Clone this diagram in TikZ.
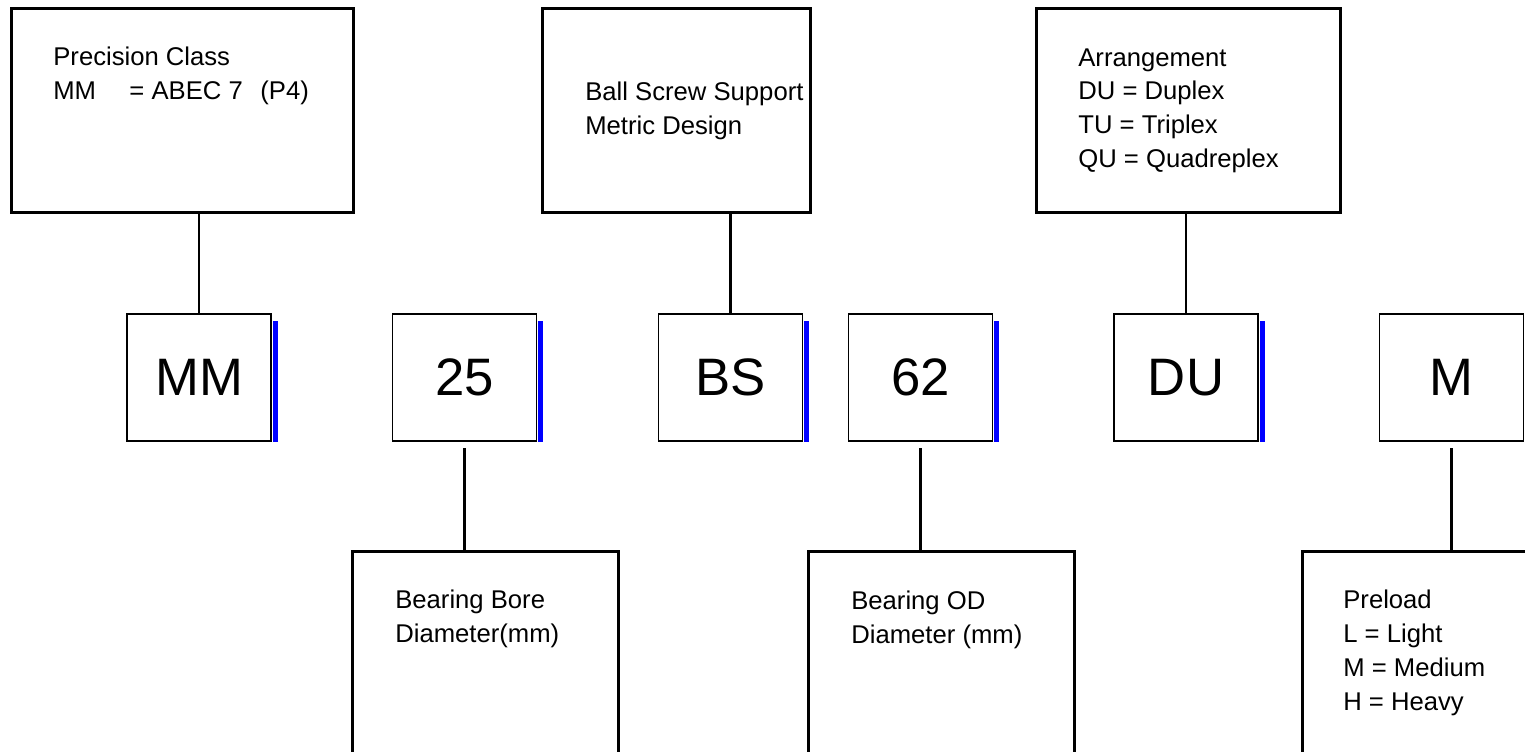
\documentclass[tikz,border=0pt]{standalone}
\usepackage{fontspec}
\setmainfont{Liberation Sans}
\tikzset{
    infobox/.style={draw, line width=1.6pt, anchor=north west},
    codebox/.style={draw, line width=0.9pt, minimum width=2.88cm, minimum height=2.55cm,
        font=\fontsize{30}{36}\selectfont},
    infotext/.style={anchor=north west, align=left, font=\fontsize{14.6}{19.2}\selectfont},
    link/.style={line width=1.3pt},
    bar/.style={fill=blue}
}

\begin{document}
\begin{tikzpicture}[
        x=0.02cm, y=-0.02cm,
        inner sep=0pt
    ]
        \useasboundingbox (0,0) rectangle (1525,751);
        \clip (0,0) rectangle (1525,751);

        % boxes above the code
        \node[infobox, minimum width=6.84cm, minimum height=4.08cm] (prec) at (10,7) {};
        \node[infobox, minimum width=5.36cm, minimum height=4.08cm] (screw) at (541,7) {};
        \node[infobox, minimum width=6.08cm, minimum height=4.08cm] (arr) at (1035,7) {};

        \node[infotext] (prectext) at ([shift={(43,40)}]prec.north west)
            {Precision Class\\MM\hspace{19pt}= ABEC 7\hspace{10pt}(P4)};
        \node[infotext] (screwtext) at ([shift={(44,75)}]screw.north west)
            {Ball Screw Support\\Metric Design};
        \node[infotext] (arrtext) at ([shift={(43,41)}]arr.north west)
            {Arrangement\\DU = Duplex\\TU = Triplex\\QU = Quadreplex};

        % the code
        \node[codebox] (mm) at (199,377.5) {MM};
        \node[codebox] (bore) at (464.5,377.5) {25};
        \node[codebox] (bs) at (730.5,377.5) {BS};
        \node[codebox] (od) at (920.5,377.5) {62};
        \node[codebox] (du) at (1186,377.5) {DU};
        \node[codebox] (m) at (1451.5,377.5) {M};

        \fill[bar] ([shift={(1,8)}]mm.north east) rectangle ([shift={(6,0)}]mm.south east);
        \fill[bar] ([shift={(1,8)}]bore.north east) rectangle ([shift={(6,0)}]bore.south east);
        \fill[bar] ([shift={(1,8)}]bs.north east) rectangle ([shift={(6,0)}]bs.south east);
        \fill[bar] ([shift={(1,8)}]od.north east) rectangle ([shift={(6,0)}]od.south east);
        \fill[bar] ([shift={(1,8)}]du.north east) rectangle ([shift={(6,0)}]du.south east);
        \fill[bar] ([shift={(1,8)}]m.north east) rectangle ([shift={(6,0)}]m.south east);

        % boxes below the code
        \node[infobox, minimum width=5.32cm, minimum height=5.2cm] (boredesc) at (351,550) {};
        \node[infobox, minimum width=5.32cm, minimum height=5.2cm] (oddesc) at (807,550) {};
        \node[infobox, minimum width=6cm, minimum height=5.2cm] (pre) at (1301,550) {};

        \node[infotext] (boretext) at ([shift={(44,40)}]boredesc.north west)
            {Bearing Bore\\Diameter(mm)};
        \node[infotext] (odtext) at ([shift={(44,41)}]oddesc.north west)
            {Bearing OD\\Diameter (mm)};
        \node[infotext] (pretext) at ([shift={(42,40)}]pre.north west)
            {Preload\\L = Light\\M = Medium\\H = Heavy};

        \draw[link] (mm.north) -- (mm.north |- prec.south);
        \draw[link] (bs.north) -- (bs.north |- screw.south);
        \draw[link] (du.north) -- (du.north |- arr.south);
        \draw[link, shorten <=0.12cm] (bore.south) -- (bore.south |- boredesc.north);
        \draw[link, shorten <=0.12cm] (od.south) -- (od.south |- oddesc.north);
        \draw[link, shorten <=0.12cm] (m.south) -- (m.south |- pre.north);
    \end{tikzpicture}
\end{document}
